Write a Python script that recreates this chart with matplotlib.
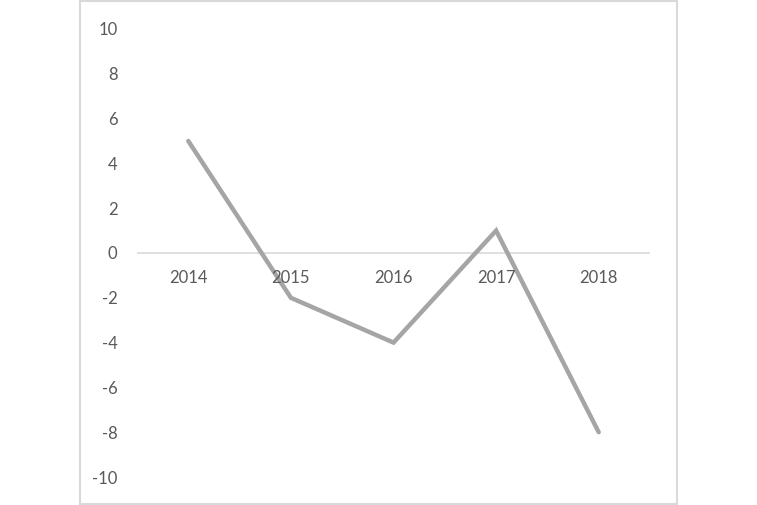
import matplotlib.pyplot as plt
from matplotlib.patches import Rectangle

years = ["2014", "2015", "2016", "2017", "2018"]
values = [5, -2, -4, 1, -8]
y_ticks = [10, 8, 6, 4, 2, 0, -2, -4, -6, -8, -10]

plt.rcParams["font.family"] = ["Lato", "DejaVu Sans"]

W, H = 757, 505
fig = plt.figure(figsize=(W / 100, H / 100), dpi=100)

# outer chart border
fig.patches.append(Rectangle((80 / W, 1 - 504 / H), 597 / W, 503 / H,
                             transform=fig.transFigure, fill=False,
                             edgecolor="#d9d9d9", linewidth=1.5))

ax = fig.add_axes([137 / W, 1 - 477 / H, 513 / W, 448 / H])
x = list(range(len(years)))
ax.plot(x, values, color="#a5a5a5", linewidth=3.2, solid_capstyle="round",
        solid_joinstyle="miter")
ax.axhline(0, color="#d9d9d9", linewidth=1.2, zorder=0)

ax.set_xlim(-0.5, len(years) - 0.5)
ax.set_ylim(-10, 10)
ax.set_yticks(y_ticks)
ax.set_yticklabels([str(v) for v in y_ticks])
ax.set_xticks([])
for s in ax.spines.values():
    s.set_visible(False)
ax.tick_params(axis="y", length=0, pad=14, labelsize=12, labelcolor="#595959")

for xi, yr in zip(x, years):
    ax.text(xi, -1.12, yr, ha="center", va="center", fontsize=12,
            color="#595959")

fig.savefig("out.png", dpi=100)
